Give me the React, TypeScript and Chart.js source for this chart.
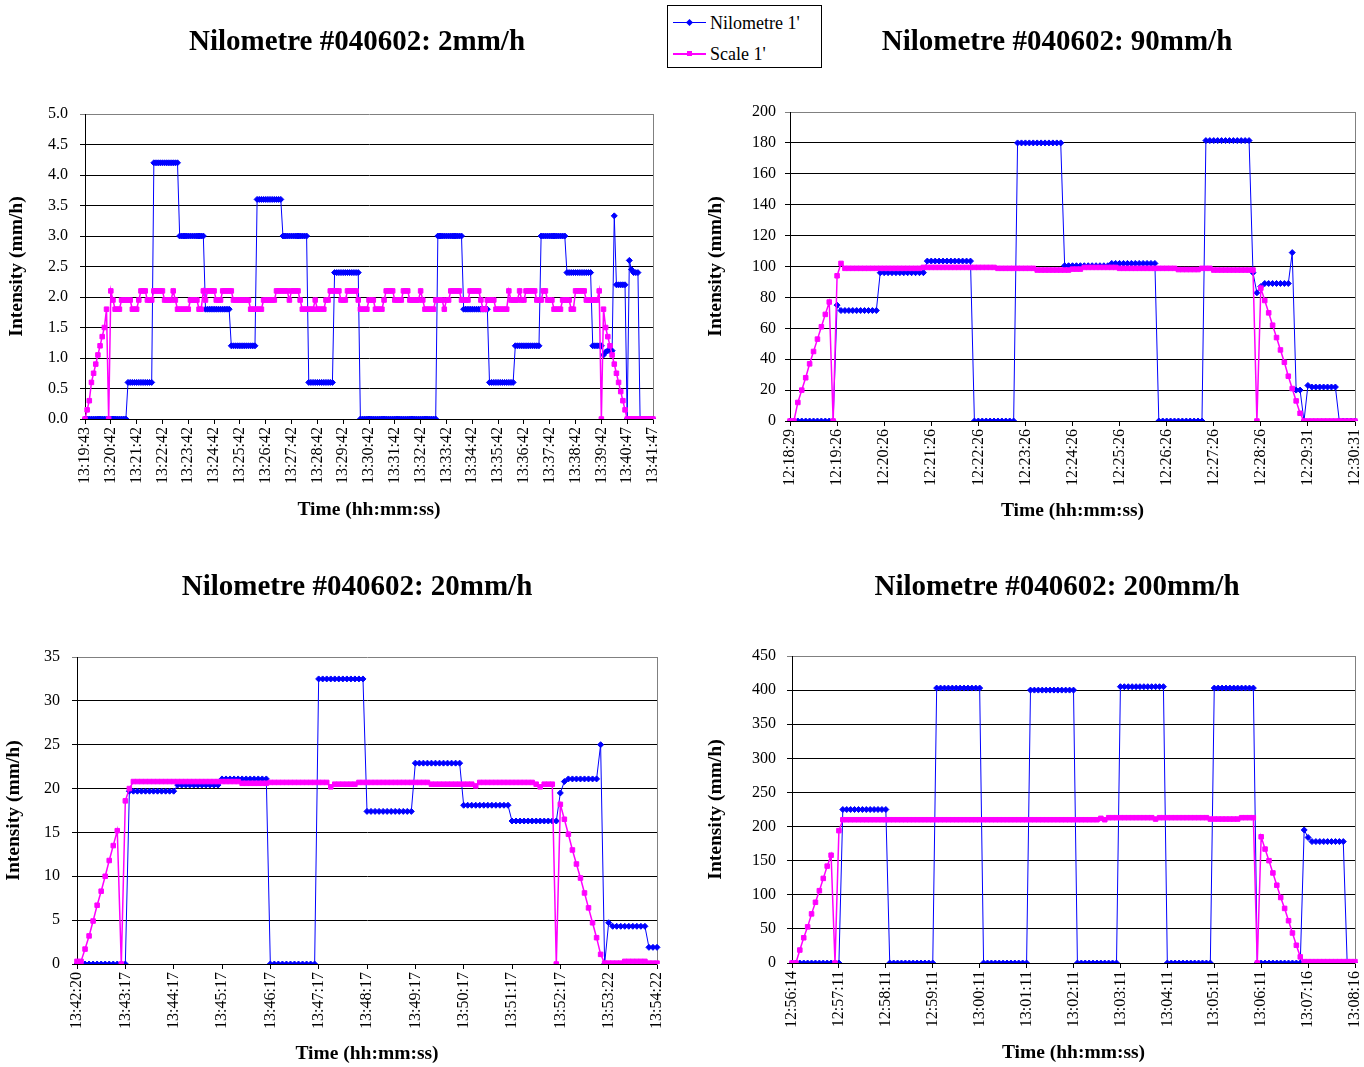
import React, { useEffect, useRef } from 'react';
import { Chart, registerables } from 'chart.js';

Chart.register(...registerables);

const FONT = '"Liberation Serif", "Times New Roman", serif';
const BLUE = '#0000FF';
const PINK = '#FF00FF';
const STEP = 12; // samples between two labelled ticks

// ---------- tick labels ----------
const ticks2mm = ['13:19:43', '13:20:42', '13:21:42', '13:22:42', '13:23:42', '13:24:42', '13:25:42', '13:26:42', '13:27:42', '13:28:42', '13:29:42', '13:30:42', '13:31:42', '13:32:42', '13:33:42', '13:34:42', '13:35:42', '13:36:42', '13:37:42', '13:38:42', '13:39:42', '13:40:47', '13:41:47'];
const ticks90mm = ['12:18:29', '12:19:26', '12:20:26', '12:21:26', '12:22:26', '12:23:26', '12:24:26', '12:25:26', '12:26:26', '12:27:26', '12:28:26', '12:29:31', '12:30:31'];
const ticks20mm = ['13:42:20', '13:43:17', '13:44:17', '13:45:17', '13:46:17', '13:47:17', '13:48:17', '13:49:17', '13:50:17', '13:51:17', '13:52:17', '13:53:22', '13:54:22'];
const ticks200mm = ['12:56:14', '12:57:11', '12:58:11', '12:59:11', '13:00:11', '13:01:11', '13:02:11', '13:03:11', '13:04:11', '13:05:11', '13:06:11', '13:07:16', '13:08:16'];

// ---------- series values, as [value, repeat count] runs ----------
type Run = [number, number];

const nilo2mm: Run[] = [[0, 20], [0.6, 12], [4.2, 12], [3, 12], [1.8, 12], [1.2, 12], [3.6, 12], [3, 12], [0.6, 12], [2.4, 12], [0, 36], [3, 12], [1.8, 12], [0.6, 12], [1.2, 12], [3, 12], [2.4, 12], [1.2, 5], [1.05, 1], [1.1, 1], [1.12, 3], [3.33, 1], [2.2, 5], [0, 1], [2.6, 1], [2.45, 1], [2.4, 3], [0, 7]];
const scale2mm: Run[] = [[0, 1], [0.15, 1], [0.3, 1], [0.6, 1], [0.75, 1], [0.9, 1], [1.05, 1], [1.2, 1], [1.35, 1], [1.5, 1], [1.8, 1], [0, 1], [2.1, 1], [1.95, 1], [1.8, 3], [1.95, 5], [1.8, 3], [1.95, 1], [2.1, 3], [1.95, 3], [2.1, 5], [1.95, 4], [2.1, 1], [1.95, 1], [1.8, 6], [1.95, 4], [1.8, 2], [2.1, 1], [1.95, 1], [2.1, 4], [1.95, 3], [2.1, 5], [1.95, 8], [1.8, 6], [1.95, 6], [2.1, 6], [1.95, 1], [2.1, 4], [1.95, 1], [1.8, 6], [1.95, 1], [1.8, 4], [1.95, 2], [2.1, 5], [1.95, 3], [2.1, 5], [1.95, 1], [1.8, 4], [1.95, 3], [1.8, 4], [1.95, 1], [2.1, 4], [1.95, 4], [2.1, 3], [1.95, 5], [2.1, 1], [1.95, 1], [1.8, 5], [1.95, 4], [1.8, 1], [1.95, 2], [2.1, 5], [1.95, 4], [2.1, 5], [1.95, 1], [1.8, 2], [1.95, 4], [1.8, 6], [2.1, 1], [1.95, 4], [2.1, 1], [1.95, 2], [2.1, 5], [1.95, 3], [2.1, 2], [1.95, 3], [1.8, 4], [1.95, 4], [1.8, 2], [2.1, 5], [1.95, 6], [2.1, 1], [0, 1], [1.8, 1], [1.5, 1], [1.35, 1], [1.2, 1], [1.05, 1], [0.9, 1], [0.75, 1], [0.6, 1], [0.45, 1], [0.3, 1], [0.15, 1], [0, 13]];

const nilo90mm: Run[] = [[0, 12], [75, 1], [71.5, 10], [96, 12], [103.5, 12], [0, 11], [180, 12], [100.5, 12], [102, 12], [0, 12], [181.5, 12], [96, 1], [83, 1], [87, 1], [89, 7], [109, 1], [20, 2], [0, 1], [23, 1], [22, 7], [0, 5]];
const scale90mm: Run[] = [[0, 2], [12, 1], [20, 1], [28, 1], [37, 1], [45, 1], [53, 1], [61, 1], [69, 1], [77, 1], [0, 1], [94, 1], [102, 1], [98.8, 20], [99.4, 19], [98.8, 10], [97.7, 9], [98.3, 3], [99.4, 9], [98.8, 15], [98, 6], [98.8, 3], [97.7, 11], [0, 1], [86, 1], [78, 1], [70, 1], [62, 1], [54, 1], [46, 1], [38, 1], [29, 1], [21, 1], [13, 1], [5, 1], [0, 14]];

const nilo20mm: Run[] = [[0, 13], [19.7, 12], [20.4, 11], [21.1, 12], [0, 12], [32.5, 12], [17.4, 12], [22.9, 12], [18.1, 12], [16.3, 12], [19.5, 1], [20.8, 1], [21.1, 8], [25, 1], [0, 1], [4.7, 1], [4.3, 9], [1.9, 3]];
const scale20mm: Run[] = [[0.3, 2], [1.7, 1], [3.2, 1], [4.9, 1], [6.7, 1], [8.3, 1], [10, 1], [11.8, 1], [13.5, 1], [15.2, 1], [0, 1], [18.6, 1], [20, 1], [20.8, 27], [20.6, 7], [20.7, 15], [20.2, 1], [20.5, 6], [20.7, 18], [20.5, 11], [20.3, 1], [20.7, 14], [20.5, 1], [20.2, 1], [20.5, 3], [0, 1], [18.2, 1], [16.5, 1], [14.8, 1], [13, 1], [11.4, 1], [9.8, 1], [8.1, 1], [6.4, 1], [4.7, 1], [3, 1], [1.1, 1], [0.1, 5], [0.3, 6], [0.1, 3]];

const nilo200mm: Run[] = [[0, 13], [225, 12], [0, 12], [403, 12], [0, 12], [400, 12], [0, 11], [405, 12], [0, 12], [403, 11], [0, 12], [195, 1], [184, 1], [178, 9], [0, 3]];
const scale200mm: Run[] = [[0, 2], [19, 1], [37, 1], [53, 1], [72, 1], [89, 1], [106, 1], [124, 1], [142, 1], [158, 1], [0, 1], [194, 1], [210, 66], [212, 1], [210, 1], [213, 12], [211, 1], [213, 13], [211, 8], [213, 4], [0, 1], [185, 1], [167, 1], [150, 1], [132, 1], [114, 1], [96, 1], [80, 1], [62, 1], [44, 1], [26, 1], [9, 1], [2, 14]];

function expand(runs: Run[]): number[] {
  const out: number[] = [];
  runs.forEach(([v, c]) => {
    for (let i = 0; i < c; i++) out.push(v);
  });
  return out;
}

function makeLabels(tickLabels: string[]): string[] {
  const n = (tickLabels.length - 1) * STEP + 1;
  const out: string[] = [];
  for (let i = 0; i < n; i++) out.push(i % STEP === 0 ? tickLabels[i / STEP] : '');
  return out;
}

type PanelCfg = {
  left: number; top: number; width: number; height: number;
  title: string; tickLabels: string[]; nilo: Run[]; scale: Run[];
  yMax: number; yStep: number; yDec: number;
  yAxisW: number; rightW: number; xAxisH: number;
  titlePadBottom: number; yTitlePad: number; yTickPad: number; xTitlePad: number;
};

const panels: PanelCfg[] = [
  { left: 0, top: 0, width: 714, height: 530, title: 'Nilometre #040602: 2mm/h', tickLabels: ticks2mm, nilo: nilo2mm, scale: scale2mm, yMax: 5, yStep: 0.5, yDec: 1, yAxisW: 85, rightW: 61, xAxisH: 111, titlePadBottom: 53.6, yTitlePad: 5, yTickPad: 12, xTitlePad: 8 },
  { left: 700, top: 0, width: 714, height: 530, title: 'Nilometre #040602: 90mm/h', tickLabels: ticks90mm, nilo: nilo90mm, scale: scale90mm, yMax: 200, yStep: 20, yDec: 0, yAxisW: 90, rightW: 59, xAxisH: 109, titlePadBottom: 51.6, yTitlePad: 4, yTickPad: 9, xTitlePad: 7 },
  { left: 0, top: 545, width: 714, height: 522, title: 'Nilometre #040602: 20mm/h', tickLabels: ticks20mm, nilo: nilo20mm, scale: scale20mm, yMax: 35, yStep: 5, yDec: 0, yAxisW: 77, rightW: 57, xAxisH: 103, titlePadBottom: 51.6, yTitlePad: 2, yTickPad: 12, xTitlePad: 1 },
  { left: 700, top: 545, width: 714, height: 522, title: 'Nilometre #040602: 200mm/h', tickLabels: ticks200mm, nilo: nilo200mm, scale: scale200mm, yMax: 450, yStep: 50, yDec: 0, yAxisW: 92, rightW: 59, xAxisH: 104, titlePadBottom: 50.6, yTitlePad: 4, yTickPad: 11, xTitlePad: 2 },
];

function Panel({ cfg }: { cfg: PanelCfg }) {
  const ref = useRef<HTMLCanvasElement | null>(null);
  useEffect(() => {
    if (!ref.current) return;
    const labels = makeLabels(cfg.tickLabels);
    const chart = new Chart(ref.current, {
      type: 'line',
      data: {
        labels,
        datasets: [
          {
            label: "Scale 1'",
            data: expand(cfg.scale),
            borderColor: PINK,
            backgroundColor: PINK,
            borderWidth: 1.5,
            pointStyle: 'rect',
            pointRadius: 3.2,
            pointBorderWidth: 1,
            pointBorderColor: PINK,
            pointBackgroundColor: PINK,
            tension: 0,
            order: 0,
          },
          {
            label: "Nilometre 1'",
            data: expand(cfg.nilo),
            borderColor: BLUE,
            backgroundColor: BLUE,
            borderWidth: 1,
            pointStyle: 'rectRot',
            pointRadius: 3,
            pointBorderWidth: 1,
            pointBorderColor: BLUE,
            pointBackgroundColor: BLUE,
            tension: 0,
            order: 1,
          },
        ],
      },
      options: {
        responsive: false,
        animation: false,
        layout: { padding: 0 },
        plugins: {
          legend: { display: false },
          tooltip: { enabled: false },
          title: {
            display: true,
            text: cfg.title,
            color: '#000',
            font: { family: FONT, size: 29, weight: 'bold' },
            padding: { top: 25.6, bottom: cfg.titlePadBottom },
          },
        },
        scales: {
          x: {
            type: 'category',
            offset: false,
            grid: { display: true, drawOnChartArea: false, drawTicks: true, tickLength: 5, color: '#000' },
            border: { display: true, color: '#000', width: 1 },
            ticks: {
              autoSkip: false,
              minRotation: 90,
              maxRotation: 90,
              padding: 3,
              color: '#000',
              font: { family: FONT, size: 16 },
              callback: (v: any) => labels[Number(v)],
            },
            afterBuildTicks: (s: any) => {
              s.ticks = s.ticks.filter((t: any) => t.value % STEP === 0);
            },
            afterFit: (s: any) => {
              s.height = cfg.xAxisH;
            },
            title: {
              display: true,
              text: 'Time (hh:mm:ss)',
              color: '#000',
              font: { family: FONT, size: 19.5, weight: 'bold' },
              padding: { top: 0, bottom: cfg.xTitlePad },
            },
          },
          y: {
            type: 'linear',
            position: 'left',
            min: 0,
            max: cfg.yMax,
            grid: {
              color: (c: any) => (c.tick && c.tick.value === cfg.yMax ? '#808080' : '#000'),
              lineWidth: 1,
              tickLength: 5,
              drawTicks: true,
            },
            border: { display: true, color: '#000', width: 1 },
            ticks: {
              stepSize: cfg.yStep,
              padding: cfg.yTickPad,
              color: '#000',
              font: { family: FONT, size: 16 },
              callback: (v: any) => Number(v).toFixed(cfg.yDec),
            },
            afterFit: (s: any) => {
              s.width = cfg.yAxisW;
            },
            title: {
              display: true,
              text: 'Intensity (mm/h)',
              color: '#000',
              font: { family: FONT, size: 19.5, weight: 'bold' },
              padding: { top: cfg.yTitlePad, bottom: 0 },
            },
          },
          r: {
            type: 'linear',
            position: 'right',
            display: true,
            grid: { display: false, drawTicks: false },
            ticks: { display: false },
            border: { display: true, color: '#808080', width: 1 },
            afterFit: (s: any) => {
              s.width = cfg.rightW;
            },
          },
        },
      },
    } as any);
    return () => chart.destroy();
  }, [cfg]);
  return (
    <canvas
      ref={ref}
      width={cfg.width}
      height={cfg.height}
      style={{ position: 'absolute', left: cfg.left, top: cfg.top, width: cfg.width, height: cfg.height }}
    />
  );
}

function Legend() {
  const row = (top: number, color: string, diamond: boolean, text: string) => (
    <div style={{ position: 'absolute', left: 0, top, width: 153, height: 24 }}>
      <div style={{ position: 'absolute', left: 5, top: 11, width: 33, height: diamond ? 1 : 1.5, background: color }} />
      <div
        style={{
          position: 'absolute',
          left: 19,
          top: 9,
          width: 5,
          height: 5,
          background: color,
          transform: diamond ? 'rotate(45deg)' : 'none',
        }}
      />
      <div style={{ position: 'absolute', left: 42, top: 1, fontFamily: FONT, fontSize: 18, color: '#000', whiteSpace: 'nowrap', lineHeight: '22px' }}>
        {text}
      </div>
    </div>
  );
  return (
    <div
      style={{
        position: 'absolute',
        left: 667,
        top: 5,
        width: 153,
        height: 61,
        border: '1px solid #000',
        background: '#fff',
        zIndex: 5,
      }}
    >
      {row(5, BLUE, true, "Nilometre 1'")}
      {row(36, PINK, false, "Scale 1'")}
    </div>
  );
}

export default function App() {
  return (
    <div style={{ position: 'absolute', left: 0, top: 0, width: 1364, height: 1067, overflow: 'hidden', background: '#fff' }}>
      {panels.map((p, i) => (
        <Panel key={i} cfg={p} />
      ))}
      <Legend />
    </div>
  );
}
